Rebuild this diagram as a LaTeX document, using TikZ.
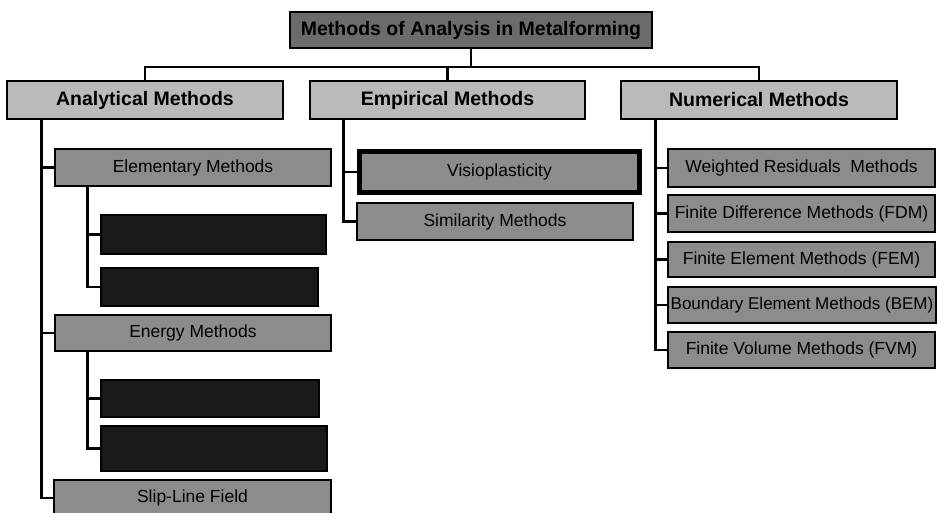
\documentclass[tikz,border=0pt]{standalone}
\usepackage{fontspec}
\setsansfont{Liberation Sans}
\begin{document}
\begin{tikzpicture}[
    x=1pt, y=-1pt,
    topbox/.style={
        rectangle,
        draw=black,
        line width=1.5pt,
        fill=black!58,
        inner sep=0pt,
        font=\sffamily\bfseries\fontsize{19.5}{21}\selectfont,
        align=center
    },
    mainbox/.style={
        rectangle,
        draw=black,
        line width=1.5pt,
        fill=black!27,
        inner sep=0pt,
        minimum width=276pt,
        minimum height=38pt,
        font=\sffamily\bfseries\fontsize{19.5}{21}\selectfont,
        align=center
    },
    subbox/.style={
        rectangle,
        draw=black,
        line width=1.5pt,
        fill=black!45,
        inner sep=0pt,
        minimum height=36pt,
        font=\sffamily\fontsize{17.5}{19}\selectfont,
        align=center
    },
    darkbox/.style={
        rectangle,
        draw=black,
        line width=1.5pt,
        fill=black!90,
        inner sep=0pt
    },
    link/.style={line width=2.5pt},
]
\useasboundingbox (0,0) rectangle (937,512);

% === TOP ===
\node[topbox, minimum width=362pt, minimum height=36pt] (top) at (471,30) {Methods of Analysis in Metalforming};

% Groups
\node[mainbox] (anal) at (145,100) {Analytical Methods};
\node[mainbox, minimum width=275pt] (emp) at (447.5,100) {Empirical Methods};
\node[mainbox] (num) at (759,100) {Numerical Methods};

% === ANALYTICAL ===
\node[subbox, minimum width=276pt, minimum height=37pt] (elem) at (193,167.5) {Elementary Methods};
\node[darkbox, minimum width=225pt, minimum height=39pt] (elemA) at (213.5,234.5) {};
\node[darkbox, minimum width=217pt, minimum height=38pt] (elemB) at (209.5,287) {};
\node[subbox, minimum width=276pt] (energy) at (193,333) {Energy Methods};
\node[darkbox, minimum width=218pt, minimum height=37pt] (energyA) at (210,398.5) {};
\node[darkbox, minimum width=226pt, minimum height=45pt] (energyB) at (214,448.5) {};
\node[subbox, minimum width=277pt] (slip) at (192.5,498) {Slip-Line Field};

% === EMPIRICAL ===
\node[subbox, line width=5pt, minimum width=280pt, minimum height=41pt] (visio) at (499.5,172) {Visioplasticity};
\node[subbox, minimum width=276pt, minimum height=37pt] (simil) at (495,221.5) {Similarity Methods};

% === NUMERICAL ===
\node[subbox, minimum width=267pt, minimum height=38pt] (wrm) at (801.5,168) {Weighted Residuals\ \ Methods};
\node[subbox, minimum width=267pt, minimum height=37pt] (fdm) at (801.5,213.5) {Finite Difference Methods (FDM)};
\node[subbox, minimum width=267pt, minimum height=35pt] (fem) at (801.5,259.5) {Finite Element Methods (FEM)};
\node[subbox, minimum width=268pt, font=\sffamily\fontsize{17}{19}\selectfont] (bem) at (802,305) {Boundary Element Methods (BEM)};
\node[subbox, minimum width=267pt] (fvm) at (801.5,350) {Finite Volume Methods (FVM)};

% Connectors
\draw[link] (top.south) -- ++(0,18) coordinate (bus);
\draw[link] (anal.north) |- (bus) -| (num.north);
\draw[link] (emp.north) -- (emp.north |- bus);

\foreach \n in {elem,energy,slip}
    \draw[link] ([xshift=35pt]anal.south west) |- (\n.west);
\foreach \n in {elemA,elemB}
    \draw[link] ([xshift=33pt]elem.south west) |- (\n.west);
\foreach \n in {energyA,energyB}
    \draw[link] ([xshift=33pt]energy.south west) |- (\n.west);
\foreach \n in {visio,simil}
    \draw[link] ([xshift=34pt]emp.south west) |- (\n.west);
\foreach \n in {wrm,fdm,fem,bem,fvm}
    \draw[link] ([xshift=35pt]num.south west) |- (\n.west);

\end{tikzpicture}
\end{document}
